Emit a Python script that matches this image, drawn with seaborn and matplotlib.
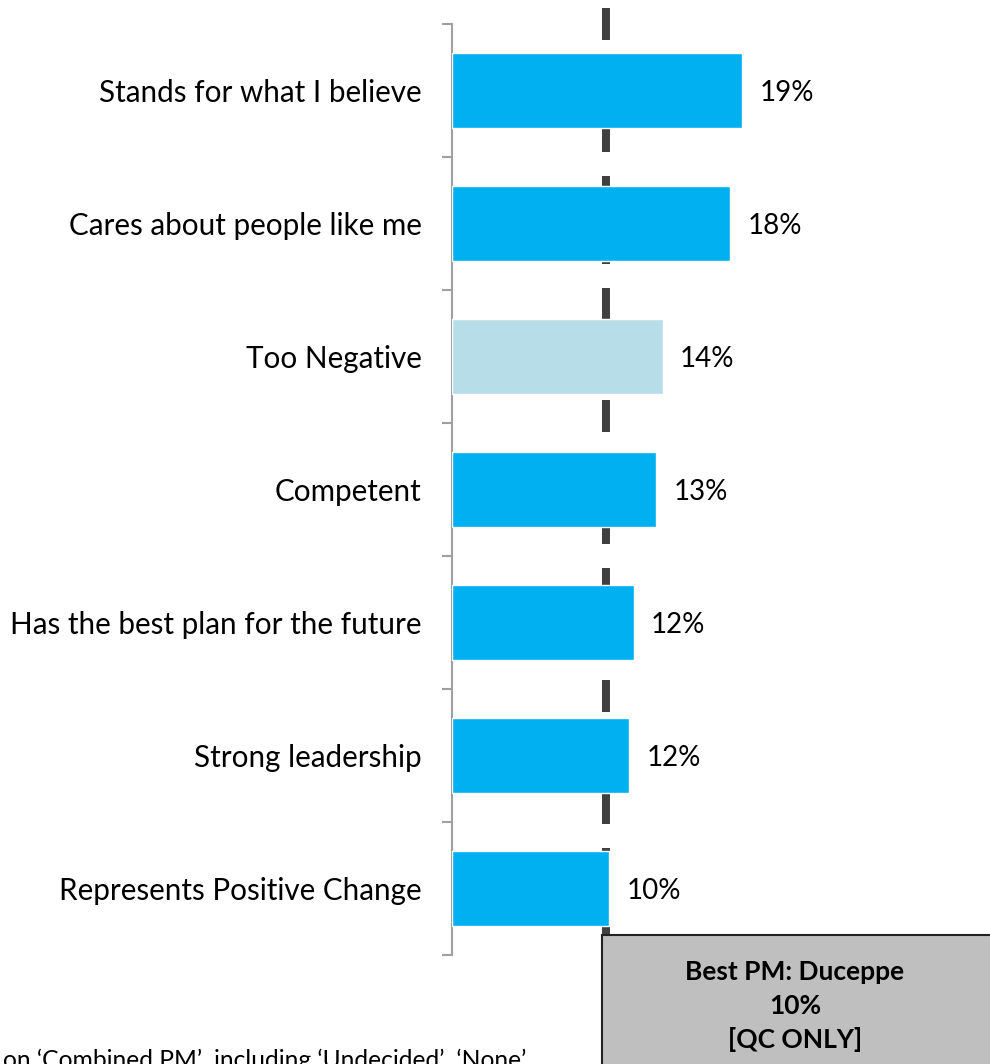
import matplotlib
matplotlib.use("Agg")
import matplotlib.pyplot as plt
import seaborn as sns
import pandas as pd
from matplotlib.patches import Rectangle

categories = ["Stands for what I believe", "Cares about people like me", "Too Negative",
              "Competent", "Has the best plan for the future", "Strong leadership",
              "Represents Positive Change"]
values = [19.0, 18.2, 13.8, 13.4, 11.9, 11.6, 10.3]
labels = ["19%", "18%", "14%", "13%", "12%", "12%", "10%"]
bar_colors = ["#00B0F0", "#00B0F0", "#B7DEE8", "#00B0F0", "#00B0F0", "#00B0F0", "#00B0F0"]
reference_value = 10.1
box_lines = ["Best PM: Duceppe", "10%", "[QC ONLY]"]
footer = "on \u2018Combined PM\u2019, including \u2018Undecided\u2019, \u2018None\u2019"

sns.set_theme(style="white")
plt.rcParams['font.family'] = ['Lato', 'DejaVu Sans']

W, H = 990, 1064
fig = plt.figure(figsize=(W / 100, H / 100), dpi=100)
ax_left, ax_top, ax_bottom = 452, 24, 955
ax = fig.add_axes([ax_left / W, (H - ax_bottom) / H, (W - ax_left) / W, (ax_bottom - ax_top) / H])

df = pd.DataFrame({"cat": categories, "val": values})
sns.barplot(data=df, x="val", y="cat", hue="cat", palette=bar_colors, legend=False,
            orient="h", width=0.565, ax=ax, saturation=1, zorder=3)

ax.set_xlim(0, (W - ax_left) / 15.26)
ax.set_ylim(len(categories) - 0.5, -0.5)

# dashed reference line
ax.plot([reference_value, reference_value], [-0.62, 7.3], color="#404040", lw=5.76,
        linestyle=(0, (4, 3)), solid_capstyle="butt", dash_capstyle="butt",
        clip_on=False, zorder=1)

for i, (v, lab) in enumerate(zip(values, labels)):
    ax.text(v + 1.15, i, lab, va="center_baseline", ha="left", fontsize=20, color="#000000")

for s in ["top", "right", "bottom"]:
    ax.spines[s].set_visible(False)
ax.spines["left"].set_color("#A0A0A0")
ax.spines["left"].set_linewidth(1.5)
ax.set_xticks([])
ax.set_xlabel("")
ax.set_ylabel("")
ax.set_yticks(range(len(categories)))
ax.set_yticklabels(categories, fontsize=21.3, color="#000000")
ax.set_yticks([i - 0.5 for i in range(len(categories) + 1)], minor=True)
ax.tick_params(axis="y", which="major", length=0, pad=22)
ax.tick_params(axis="y", which="minor", length=7, width=1.5, color="#A0A0A0", left=True)

# annotation box
box_x, box_top = 602, 935
fig.patches.append(Rectangle((box_x / W, -0.05), 0.6, (H - box_top) / H + 0.05,
                             transform=fig.transFigure, facecolor="#BFBFBF",
                             edgecolor="#222222", linewidth=1.5, zorder=5))
for k, line in enumerate(box_lines):
    fig.text(795 / W, (H - (970 + 34 * k)) / H, line, ha="center", va="center_baseline",
             fontsize=19, fontweight="bold", color="#000000", zorder=6)

fig.text(526 / W, (H - 1049) / H, footer, ha="right", va="top", fontsize=17.7, color="#000000")

fig.savefig("out.png", dpi=100)
